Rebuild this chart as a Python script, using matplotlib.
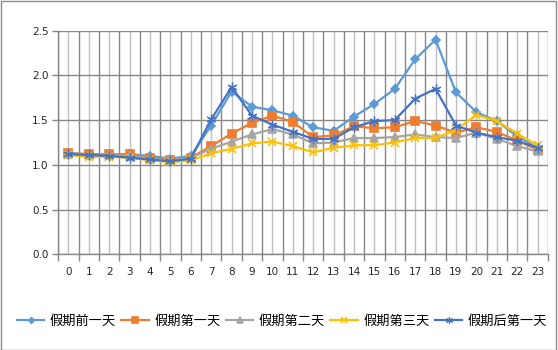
import matplotlib
matplotlib.use("Agg")
import matplotlib.pyplot as plt
from matplotlib.patches import Rectangle
from matplotlib.ticker import MultipleLocator, FixedLocator

hours = list(range(24))
hour_labels = [str(h) for h in hours]

series_names = ["假期前一天", "假期第一天", "假期第二天", "假期第三天", "假期后第一天"]

before_holiday = [1.13, 1.12, 1.12, 1.12, 1.10, 1.07, 1.10, 1.44, 1.82, 1.65, 1.61, 1.55,
                  1.42, 1.38, 1.54, 1.68, 1.85, 2.18, 2.40, 1.81, 1.59, 1.49, 1.32, 1.19]
holiday_day1 = [1.13, 1.12, 1.12, 1.12, 1.08, 1.05, 1.08, 1.21, 1.35, 1.47, 1.55, 1.48,
                1.31, 1.33, 1.43, 1.41, 1.42, 1.49, 1.44, 1.36, 1.42, 1.37, 1.27, 1.17]
holiday_day2 = [1.12, 1.11, 1.11, 1.10, 1.07, 1.05, 1.08, 1.18, 1.26, 1.34, 1.40, 1.34,
                1.24, 1.25, 1.30, 1.30, 1.31, 1.34, 1.31, 1.30, 1.36, 1.29, 1.21, 1.15]
holiday_day3 = [1.11, 1.09, 1.09, 1.08, 1.05, 1.03, 1.05, 1.13, 1.18, 1.24, 1.26, 1.21,
                1.14, 1.19, 1.22, 1.22, 1.25, 1.30, 1.30, 1.39, 1.56, 1.49, 1.35, 1.22]
after_holiday = [1.12, 1.11, 1.10, 1.08, 1.06, 1.04, 1.07, 1.51, 1.87, 1.55, 1.45, 1.37,
                 1.29, 1.29, 1.42, 1.49, 1.50, 1.74, 1.85, 1.44, 1.36, 1.31, 1.27, 1.19]

values = [before_holiday, holiday_day1, holiday_day2, holiday_day3, after_holiday]
colors = ["#5B9BD5", "#ED7D31", "#A5A5A5", "#FFC000", "#4472C4"]
markers = ["D", "s", "^", "x", (6, 2, 0)]
msizes = [4, 6, 5.5, 6, 7]
medges = [1.2, 1.2, 1.2, 1.2, 0.9]

plt.rcParams['font.family'] = ['Noto Sans CJK SC', 'DejaVu Sans']

fig = plt.figure(figsize=(5.58, 3.5), dpi=100)
fig.patches.append(Rectangle((0.5 / 558, 0.5 / 350), 555.5 / 558, 348.5 / 350,
                             transform=fig.transFigure, fill=False,
                             edgecolor="#8C8C8C", linewidth=1.0))

ax = fig.add_axes([58.3 / 558, 1 - 254.3 / 350, (547.7 - 58.3) / 558, (254.3 - 30.7) / 350])

for name, vals, c, m, ms, mew in zip(series_names, values, colors, markers, msizes, medges):
    ax.plot(hours, vals, color=c, linewidth=1.6, marker=m, markersize=ms,
            markerfacecolor=c, markeredgecolor=c, markeredgewidth=mew,
            label=name, zorder=3)

ax.set_xlim(-0.5, 23.5)
ax.set_ylim(0, 2.5)
ax.yaxis.set_major_locator(MultipleLocator(0.5))
ax.yaxis.set_major_formatter(matplotlib.ticker.FormatStrFormatter("%.1f"))

# category boundaries carry the darker grid and tick marks, centres the light grid
ax.xaxis.set_major_locator(FixedLocator([h - 0.5 for h in range(25)]))
ax.xaxis.set_minor_locator(FixedLocator(hours))
ax.set_xticklabels([])
ax.set_xticks(hours, minor=True)
ax.set_xticklabels(hour_labels, minor=True)

ax.grid(True, which="major", axis="both", color="#878787", linewidth=1.0, zorder=0)
ax.grid(True, which="minor", axis="x", color="#C0C0C0", linewidth=1.0, zorder=0)
ax.set_axisbelow(True)

for side in ["top", "right"]:
    ax.spines[side].set_visible(False)
for side in ["left", "bottom"]:
    ax.spines[side].set_color("#878787")
    ax.spines[side].set_linewidth(1.0)

ax.tick_params(axis="y", which="major", length=4, color="#878787", width=1.0,
               labelsize=7.5, labelcolor="#262626", pad=3)
ax.tick_params(axis="x", which="major", length=5, color="#878787", width=1.0)
ax.tick_params(axis="x", which="minor", length=0, labelsize=7.5,
               labelcolor="#262626", pad=9)
for lab in ax.get_yticklabels() + ax.get_xticklabels(minor=True):
    lab.set_family("DejaVu Sans")

fig.legend(loc="center", bbox_to_anchor=(282 / 558, 1 - 321 / 350), ncol=5,
           frameon=False, fontsize=9.5, handlelength=2.1, handletextpad=0.4,
           columnspacing=0.4, borderaxespad=0, markerscale=0.7)

fig.savefig("out.png", dpi=100)
